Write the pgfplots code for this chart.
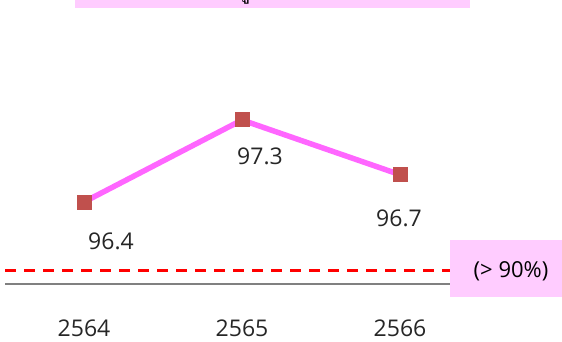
\documentclass[border=0pt]{standalone}
\usepackage{pgfplots}
\pgfplotsset{compat=1.18}
\usepackage{pgfplotstable}
\usepackage{fontspec}
\setmainfont{Open Sans}
\newfontfamily\thaifont[Script=Thai]{Loma}

\definecolor{linepink}{HTML}{FF66FF}
\definecolor{markred}{HTML}{C0504D}
\definecolor{boxpink}{HTML}{FFCCFF}
\definecolor{axisgray}{HTML}{808080}

% year index, value, label offsets
\pgfplotstableread{
x  y     dx  dy
0  96.4  27  -39
1  97.3  18  -36
2  96.7  -1  -44
}\scores

\begin{document}
\begin{tikzpicture}
\begin{axis}[
  scale only axis,
  width=474pt, height=284pt,
  xmin=-0.5, xmax=2.5,
  ymin=95.5, ymax=98.617,
  axis x line=bottom,
  axis y line=none,
  x axis line style={draw=axisgray, line width=2pt, -},
  xtick={0,1,2},
  xticklabels={2564,2565,2566},
  major tick length=0pt,
  xticklabel style={font=\fontsize{23}{27}\selectfont, text=black!85, yshift=-32pt},
  clip=false,
]
  % target line
  \addplot[red, line width=3pt, dash pattern=on 11pt off 8pt] coordinates {(-0.5,95.65) (2.5,95.65)};
  % yearly score
  \addplot[linepink, line width=5.5pt,
    mark=square*, mark size=7pt,
    mark options={fill=markred, draw=markred, line width=0pt},
    nodes near coords,
    point meta=explicit symbolic,
    visualization depends on={\thisrow{dx} \as \dx},
    visualization depends on={\thisrow{dy} \as \dy},
    every node near coord/.append style={
      font=\fontsize{23}{27}\selectfont, text=black!85,
      anchor=center, xshift=\dx pt, yshift=\dy pt},
  ] table[x=x, y=y, meta=y] {\scores};
\end{axis}
% target label
\fill[boxpink] (445pt,-13pt) rectangle (557pt,44pt);
\node[font=\fontsize{22}{26}\selectfont, text=black] at (506pt,13pt) {(> 90\%)};
% title band
\begin{scope}
  \clip (-5pt,-57pt) rectangle (557pt,284pt);
  \fill[boxpink] (70pt,276pt) rectangle (465pt,320pt);
  \node[anchor=base, font=\thaifont\fontsize{22}{26}\selectfont] at (167pt,286pt) {ร้อยละความพึงพอใจของผู้รับบริการ};
\end{scope}
\pgfresetboundingbox
\useasboundingbox (-5pt,-57pt) rectangle (557pt,284pt);
\end{tikzpicture}
\end{document}
